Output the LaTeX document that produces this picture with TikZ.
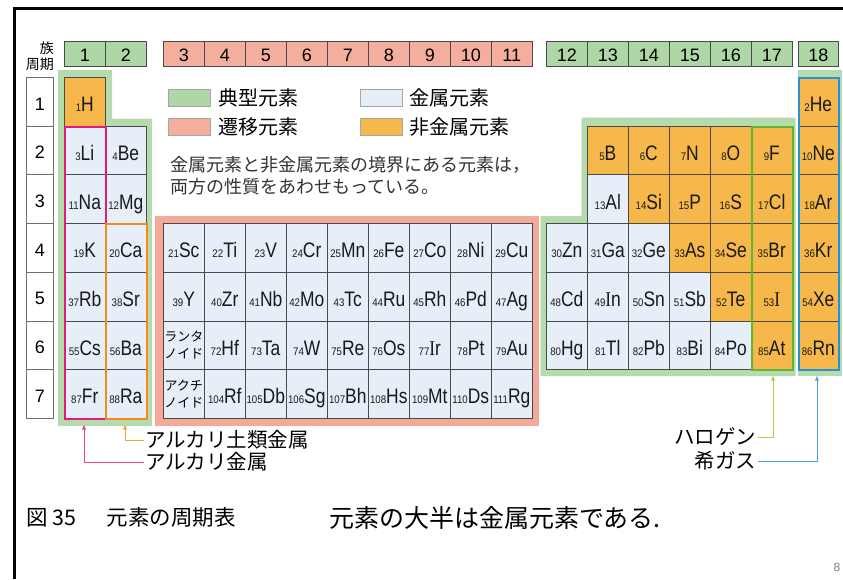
\documentclass[tikz,border=0pt]{standalone}
\usepackage{fontspec}
\setmainfont{Liberation Sans}
\newfontfamily\jp{Noto Sans CJK JP}
\newfontfamily\elf[FakeStretch=0.83]{Liberation Sans}
\newfontfamily\numf[FakeStretch=0.88]{Liberation Sans}
\newfontfamily\serf[FakeStretch=0.83]{Liberation Serif}
\usetikzlibrary{arrows.meta,calc}

\definecolor{nm}{HTML}{F6B84A}
\definecolor{mt}{HTML}{E6EEF8}
\definecolor{grh}{HTML}{AED6A6}
\definecolor{grb}{HTML}{B5DAAD}
\definecolor{pkh}{HTML}{F3AE9E}
\definecolor{pkb}{HTML}{F3AA9A}
\definecolor{magB}{HTML}{E4197C}
\definecolor{orB}{HTML}{F08B1E}
\definecolor{haB}{HTML}{5DB732}
\definecolor{blB}{HTML}{2390E2}
\definecolor{magL}{HTML}{E8448E}
\definecolor{orL}{HTML}{F2A040}
\definecolor{haL}{HTML}{A8D448}
\definecolor{blL}{HTML}{4AA8E8}
\definecolor{gridc}{HTML}{4A4A4A}

\newcommand\elnum[1]{{\numf\fontsize{11}{11}\selectfont#1}}
\newcommand\sI{{\serf I}}

\tikzset{
  cellbox/.style={draw=gridc, line width=0.6pt, minimum height=48.7pt, inner sep=0pt,
    anchor=north west, text height=20pt, text depth=0pt,
    font=\elf\fontsize{21}{21}\selectfont, text=black!90},
  lanbox/.style={draw=gridc, line width=0.6pt, minimum height=48.7pt, minimum width=41pt,
    inner sep=0pt, anchor=north west, fill=mt, align=center,
    font=\jp\fontsize{13}{16.5}\selectfont},
  hdr/.style={draw=gridc, line width=0.6pt, minimum height=25pt, inner sep=0pt,
    anchor=north west, text height=17pt, text depth=0pt,
    font=\fontsize{18}{18}\selectfont},
  perbox/.style={draw=gridc!80, line width=0.6pt, fill=white, minimum height=48.7pt,
    minimum width=27pt, inner sep=0pt, anchor=north west, text height=17pt, text depth=0pt,
    font=\fontsize{18}{18}\selectfont},
  swatch/.style={draw=gray!70, line width=0.5pt, minimum width=42pt, minimum height=17pt,
    inner sep=0pt, anchor=north west},
  legtxt/.style={anchor=west, inner sep=0pt, font=\jp\fontsize{20}{20}\selectfont},
  grpbox/.style={line width=2pt, minimum width=41pt, inner sep=0pt, anchor=north west},
  lbl/.style={inner sep=1.5pt, font=\jp\fontsize{20.5}{20.5}\selectfont},
  conn/.style={line width=0.9pt, -{Latex[length=5pt,width=4.5pt]}},
}

\begin{document}
\begin{tikzpicture}[x=1pt,y=-1pt]
\useasboundingbox (0,0) rectangle (843,579);
\fill[white] (0,0) rectangle (843,579);

% frame
\draw[line width=2.7pt] (13.4,8.7) -- (843,8.7);
\draw[line width=2.7pt] (14.7,7.4) -- (14.7,579);

% background panels
\fill[grb] (58,70) -- (112,70) -- (112,118.5) -- (152,118.5) -- (152,426) -- (58,426) -- cycle;
\fill[pkb] (155,216) rectangle (538.5,426);
\fill[grb] (540.5,216) -- (581.5,216) -- (581.5,117.5) -- (795.5,117.5) -- (795.5,376) -- (540.5,376) -- cycle;
\fill[grb] (797.5,70) rectangle (842,376);

% group / period headings
\node[anchor=east, inner sep=0pt, font=\jp\fontsize{14}{14}\selectfont] (zoku) at (54,48.5) {族};
\node[anchor=east, inner sep=0pt, font=\jp\fontsize{14}{14}\selectfont] (shuki) at (54,64) {周期};

\foreach \g/\x/\c in {1/64/grh,2/105/grh,3/163/pkh,4/204/pkh,5/245/pkh,6/286/pkh,7/327/pkh,
  8/368/pkh,9/409/pkh,10/450/pkh,11/491/pkh,12/546/grh,13/587/grh,14/628/grh,15/669/grh,
  16/710/grh,17/751/grh}{
  \node[hdr, fill=\c, minimum width=41pt] (h\g) at (\x,40.5) {\g};
}
\node[hdr, fill=grh, minimum width=40pt] (h18) at (798,40.5) {18};

\foreach \r in {1,...,7}{
  \pgfmathsetmacro\yy{77+(\r-1)*48.7}
  \node[perbox] (p\r) at (26,\yy) {\r};
}

% elements
\foreach \n/\s/\c/\r/\f in {
  1/H/1/1/nm, 3/Li/1/2/mt, 4/Be/2/2/mt, 11/Na/1/3/mt, 12/Mg/2/3/mt,
  19/K/1/4/mt, 20/Ca/2/4/mt, 37/Rb/1/5/mt, 38/Sr/2/5/mt, 55/Cs/1/6/mt, 56/Ba/2/6/mt,
  87/Fr/1/7/mt, 88/Ra/2/7/mt,
  21/Sc/3/4/mt, 22/Ti/4/4/mt, 23/V/5/4/mt, 24/Cr/6/4/mt, 25/Mn/7/4/mt, 26/Fe/8/4/mt,
  27/Co/9/4/mt, 28/Ni/10/4/mt, 29/Cu/11/4/mt,
  39/Y/3/5/mt, 40/Zr/4/5/mt, 41/Nb/5/5/mt, 42/Mo/6/5/mt, 43/Tc/7/5/mt, 44/Ru/8/5/mt,
  45/Rh/9/5/mt, 46/Pd/10/5/mt, 47/Ag/11/5/mt,
  72/Hf/4/6/mt, 73/Ta/5/6/mt, 74/W/6/6/mt, 75/Re/7/6/mt, 76/Os/8/6/mt,
  77/{\sI r}/9/6/mt, 78/Pt/10/6/mt, 79/Au/11/6/mt,
  104/Rf/4/7/mt, 105/Db/5/7/mt, 106/Sg/6/7/mt, 107/Bh/7/7/mt, 108/Hs/8/7/mt,
  109/Mt/9/7/mt, 110/Ds/10/7/mt, 111/Rg/11/7/mt,
  5/B/13/2/nm, 6/C/14/2/nm, 7/N/15/2/nm, 8/O/16/2/nm, 9/F/17/2/nm,
  13/Al/13/3/mt, 14/Si/14/3/nm, 15/P/15/3/nm, 16/S/16/3/nm, 17/Cl/17/3/nm,
  30/Zn/12/4/mt, 31/Ga/13/4/mt, 32/Ge/14/4/mt, 33/As/15/4/nm, 34/Se/16/4/nm, 35/Br/17/4/nm,
  48/Cd/12/5/mt, 49/{\sI n}/13/5/mt, 50/Sn/14/5/mt, 51/Sb/15/5/mt, 52/Te/16/5/nm, 53/\sI/17/5/nm,
  80/Hg/12/6/mt, 81/Tl/13/6/mt, 82/Pb/14/6/mt, 83/Bi/15/6/mt, 84/Po/16/6/mt, 85/At/17/6/nm,
  2/He/18/1/nm, 10/Ne/18/2/nm, 18/Ar/18/3/nm, 36/Kr/18/4/nm, 54/Xe/18/5/nm, 86/Rn/18/6/nm}{
  \pgfmathsetmacro\xx{{64,105,163,204,245,286,327,368,409,450,491,546,587,628,669,710,751,798}[\c-1]}
  \pgfmathsetmacro\yy{77+(\r-1)*48.7}
  \pgfmathsetmacro\ww{ifthenelse(\c==18,40,41)}
  \node[cellbox, fill=\f, minimum width=\ww pt] (e\n) at (\xx,\yy) {\elnum{\n}\s};
}
\node[lanbox] (lan) at (163,320.5) {ランタ\\ノイド};
\node[lanbox] (act) at (163,369.2) {アクチ\\ノイド};

% family boxes
\node[grpbox, draw=magB, minimum height=292.2pt] (alkbox) at (64,125.7) {};
\node[grpbox, draw=orB, minimum height=194.8pt] (alebox) at (105,223.1) {};
\node[grpbox, draw=haB, minimum height=243.5pt] (halbox) at (751,125.7) {};
\node[grpbox, draw=blB, minimum width=40pt, minimum height=292.2pt] (nobbox) at (798,77) {};

% legend
\node[swatch, fill=grh] (sw1) at (168,89) {};
\node[legtxt] (lg1) at (218,97.5) {典型元素};
\node[swatch, fill=pkh] (sw2) at (168,118) {};
\node[legtxt] (lg2) at (218,126.5) {遷移元素};
\node[swatch, fill=mt] (sw3) at (360,89) {};
\node[legtxt] (lg3) at (409,97.5) {金属元素};
\node[swatch, fill=nm] (sw4) at (360,118) {};
\node[legtxt] (lg4) at (409,126.5) {非金属元素};

\node[anchor=west, inner sep=0pt, text=black!80, font=\jp\fontsize{18}{18}\selectfont] (note1) at (170,165) {金属元素と非金属元素の境界にある元素は，};
\node[anchor=west, inner sep=0pt, text=black!80, font=\jp\fontsize{18}{18}\selectfont] (note2) at (170,187) {両方の性質をあわせもっている。};

% connectors
\coordinate (alktip) at (84,424.5);
\coordinate (aletip) at (125,424.5);
\coordinate (haltip) at (773,375.5);
\coordinate (nobtip) at (817,375.5);
\node[lbl, anchor=west] (alelbl) at (144,440) {アルカリ土類金属};
\node[lbl, anchor=west] (alklbl) at (144,462) {アルカリ金属};
\node[lbl, anchor=east] (hallbl) at (758,437) {ハロゲン};
\node[lbl, anchor=east] (noblbl) at (758,461) {希ガス};
\draw[conn, draw=orL] (alelbl.west) -| (aletip);
\draw[conn, draw=magL] (alklbl.west) -| (alktip);
\draw[conn, draw=haL] (hallbl.east) -| (haltip);
\draw[conn, draw=blL] (noblbl.east) -| (nobtip);

% captions
\node[anchor=west, inner sep=0pt, font=\jp\fontsize{21.5}{21.5}\selectfont] (cap) at (26,517) {図 35\hspace{9pt}　元素の周期表};
\node[anchor=west, inner sep=0pt, font=\jp\fontsize{25}{25}\selectfont] (msg) at (329,518) {元素の大半は金属元素である.};
\node[inner sep=0pt, text=gray, font=\fontsize{12}{12}\selectfont] (pg) at (837,567) {8};
\end{tikzpicture}
\end{document}
